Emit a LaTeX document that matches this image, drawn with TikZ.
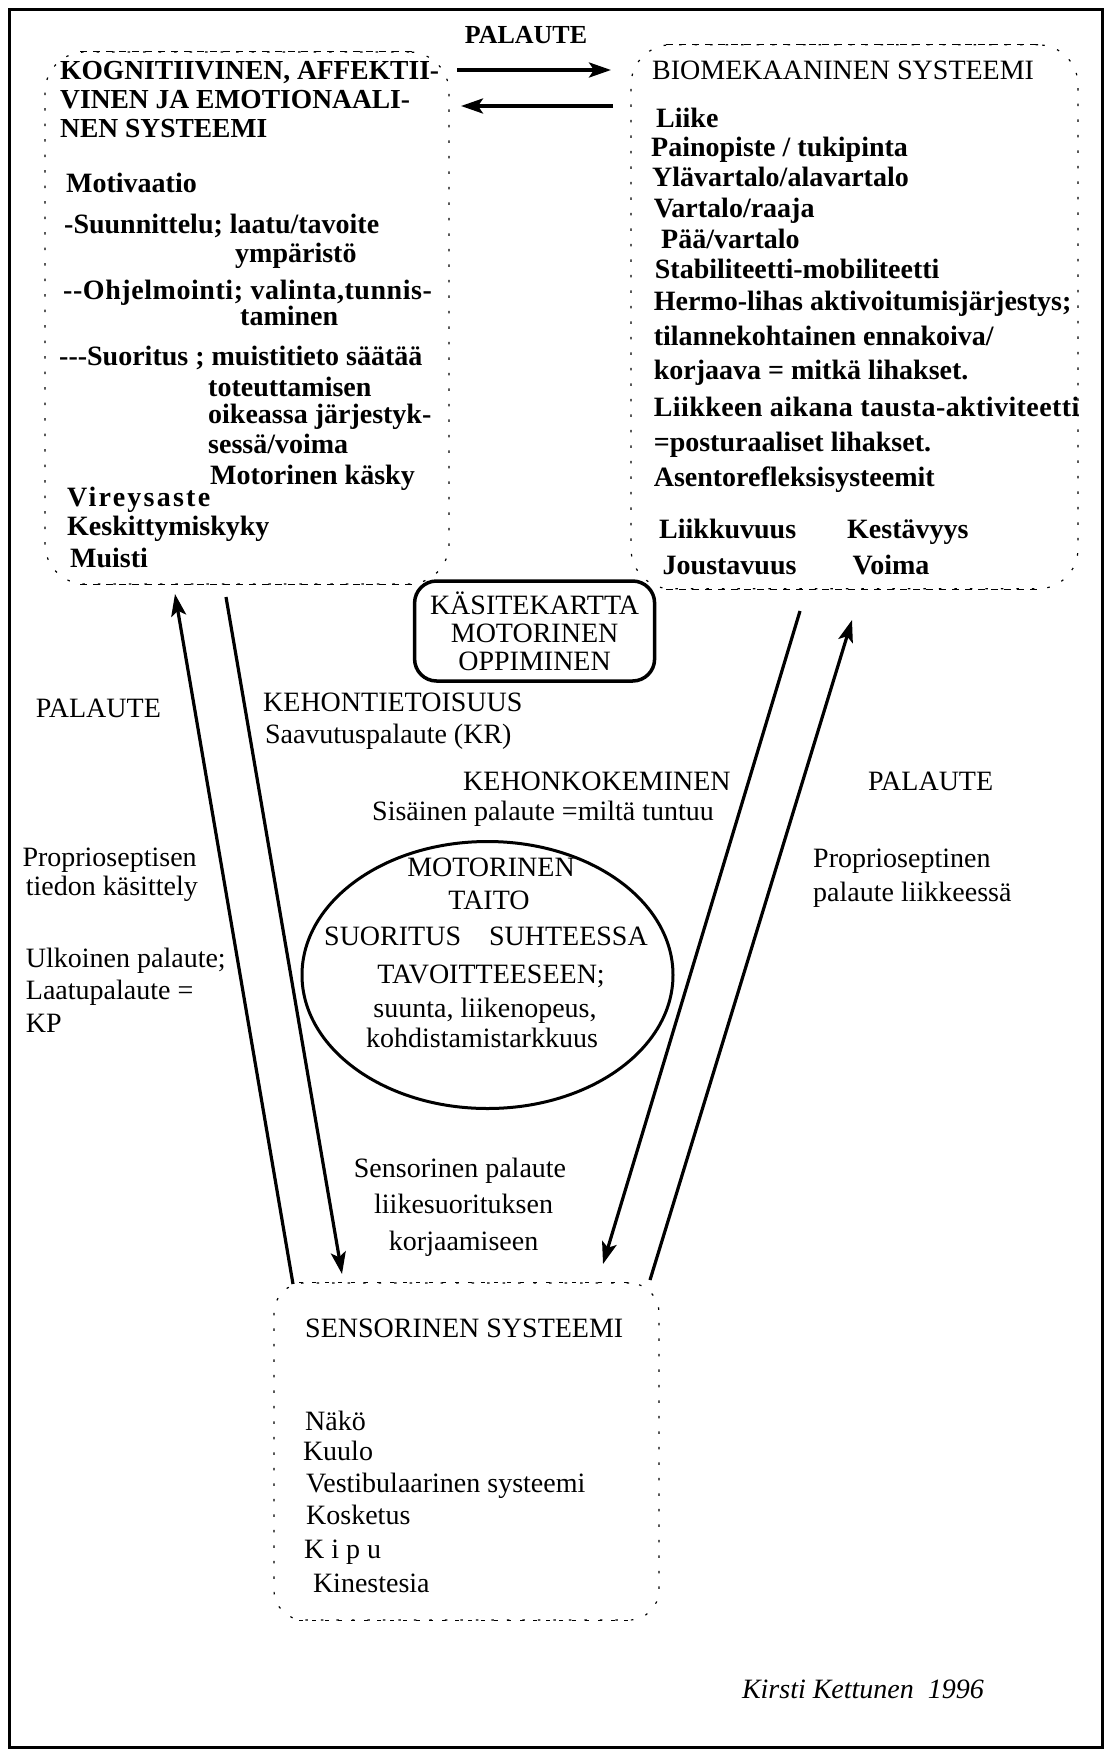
\documentclass[tikz,border=0pt]{standalone}
\usepackage{fontspec}
\setmainfont{Liberation Serif}
\usetikzlibrary{shapes.geometric,arrows.meta}
\tikzset{
  bt/.style={font=\fontsize{28}{31}\selectfont\bfseries, anchor=base west, inner sep=0pt},
  ht/.style={font=\fontsize{27.5}{30}\selectfont\bfseries, anchor=base west, inner sep=0pt},
  rt/.style={font=\fontsize{28}{31}\selectfont, anchor=base west, inner sep=0pt},
  rc/.style={font=\fontsize{28}{31}\selectfont, anchor=base, inner sep=0pt},
  sysbox/.style={draw, rounded corners=40pt, dash pattern=on 2.5pt off 13pt, line width=1.2pt, inner sep=0pt},
  edgeline/.style={line width=1.2pt, dash pattern=on 7pt off 6pt},
  fineedge/.style={line width=1.2pt, dash pattern=on 4pt off 9pt},
  arr/.style={line width=3.2pt, -{Stealth[length=22pt,width=15pt,inset=5pt]}},
  kbox/.style={draw, line width=3.5pt, rounded corners=22pt, minimum width=240pt, minimum height=100pt,
    align=center, inner sep=0pt, font=\fontsize{28}{28}\selectfont},
}
\begin{document}
\begin{tikzpicture}[x=1pt,y=-1pt]
\useasboundingbox (0,0) rectangle (1106,1751);
\draw[line width=3pt] (9,9) rectangle (1102,1747);

% boxes
\node[sysbox, minimum width=404pt, minimum height=532pt] (kog) at (247,318) {};
\draw[edgeline] ([xshift=36pt]kog.north west) -- ([xshift=-36pt]kog.north east);
\draw[edgeline] ([xshift=36pt]kog.south west) -- ([xshift=-36pt]kog.south east);
\node[sysbox, minimum width=447pt, minimum height=544pt] (bio) at (854.5,316.8) {};
\draw[edgeline] ([xshift=36pt]bio.north west) -- ([xshift=-36pt]bio.north east);
\draw[edgeline] ([xshift=36pt]bio.south west) -- ([xshift=-36pt]bio.south east);
\node[sysbox, rounded corners=30pt, minimum width=385pt, minimum height=337pt] (sens) at (466.5,1451.5) {};
\draw[fineedge] ([xshift=26pt]sens.north west) -- ([xshift=-26pt]sens.north east);
\draw[fineedge] ([xshift=26pt]sens.south west) -- ([xshift=-26pt]sens.south east);
\node[kbox] (kk) at (534.6,631) {KÄSITEKARTTA\\MOTORINEN\\OPPIMINEN};
\node[draw, ellipse, line width=3pt, minimum width=371pt, minimum height=267pt, inner sep=0pt] (taito) at (487.5,975) {};

% top feedback
\node[bt, anchor=base, font=\fontsize{26}{30}\selectfont\bfseries] (pal0) at (526,43) {PALAUTE};
\coordinate (t1a) at (457,70);
\coordinate (t1b) at (611,70);
\coordinate (t2a) at (613,106);
\coordinate (t2b) at (461,106);
\draw[arr, line width=3.6pt] (t1a) -- (t1b);
\draw[arr, line width=3.6pt] (t2a) -- (t2b);

% left box text
\node[ht] (k1) at (60,79) {KOGNITIIVINEN, AFFEKTII-};
\node[ht] (k2) at (60,108) {VINEN JA EMOTIONAALI-};
\node[ht] (k3) at (60,137) {NEN SYSTEEMI};
\node[bt] (k4) at (66,192) {Motivaatio};
\node[bt] (k5) at (64,233) {-Suunnittelu; laatu/tavoite};
\node[bt] (k6) at (235,262) {ympäristö};
\node[bt] (k7) at (63,299) {\addfontfeature{LetterSpace=2}-{}-Ohjelmointi; valinta,tunnis-};
\node[bt] (k8) at (240,325) {taminen};
\node[bt] (k9) at (59,365) {-{}-{}-Suoritus ; muistitieto säätää};
\node[bt] (k10) at (208,396) {toteuttamisen};
\node[bt] (k11) at (208,423) {oikeassa järjestyk-};
\node[bt] (k12) at (208,453) {sessä/voima};
\node[bt] (k13) at (210,484) {Motorinen käsky};
\node[bt] (k14) at (67,506) {\addfontfeature{LetterSpace=8}Vireysaste};
\node[bt] (k15) at (67,535) {Keskittymiskyky};
\node[bt] (k16) at (70,567) {Muisti};

% right box text
\node[rt] (b0) at (652,79.4) {BIOMEKAANINEN SYSTEEMI};
\node[bt] (b1) at (656,127.4) {Liike};
\node[bt] (b2) at (651,156) {Painopiste / tukipinta};
\node[bt] (b3) at (652,186.6) {Ylävartalo/alavartalo};
\node[bt] (b4) at (653.6,217.5) {Vartalo/raaja};
\node[bt] (b5) at (661,248.5) {Pää/vartalo};
\node[bt] (b6) at (654.7,278.5) {Stabiliteetti-mobiliteetti};
\node[bt] (b7) at (653.6,310.3) {Hermo-lihas aktivoitumisjärjestys;};
\node[bt] (b8) at (653.6,345) {tilannekohtainen ennakoiva/};
\node[bt] (b9) at (653.6,379.5) {korjaava = mitkä lihakset.};
\node[bt] (b10) at (653.6,416.8) {\addfontfeature{LetterSpace=1.5}Liikkeen aikana tausta-aktiviteetti};
\node[bt] (b11) at (653.6,451.4) {=posturaaliset lihakset.};
\node[bt] (b12) at (653.6,486) {Asentorefleksisysteemit};
\node[bt] (b13) at (659,538.5) {Liikkuvuus};
\node[bt] (b14) at (847,538.5) {Kestävyys};
\node[bt] (b15) at (662.5,574) {Joustavuus};
\node[bt] (b16) at (852.4,574) {Voima};

% arrows between systems
\coordinate (a1s) at (293,1284);
\coordinate (a1e) at (175,594);
\coordinate (a2s) at (226,597);
\coordinate (a2e) at (342,1274);
\coordinate (a3s) at (800,611);
\coordinate (a3e) at (603,1264);
\coordinate (a4s) at (650,1280);
\coordinate (a4e) at (852,620);
\draw[arr] (a1s) -- (a1e);
\draw[arr] (a2s) -- (a2e);
\draw[arr] (a3s) -- (a3e);
\draw[arr] (a4s) -- (a4e);

% middle labels
\node[rt] (m1) at (35.7,717) {PALAUTE};
\node[rt] (m2) at (263,711) {KEHONTIETOISUUS};
\node[rt] (m3) at (264.8,743) {Saavutuspalaute (KR)};
\node[rt] (m4) at (463,790) {KEHONKOKEMINEN};
\node[rt] (m5) at (372,820) {Sisäinen palaute =miltä tuntuu};
\node[rt] (m6) at (868,790) {PALAUTE};
\node[rt] (m7) at (22.3,866) {Proprioseptisen};
\node[rt] (m8) at (25.7,895) {tiedon käsittely};
\node[rt] (m9) at (25.7,967.5) {Ulkoinen palaute;};
\node[rt] (m10) at (25.7,999) {Laatupalaute =};
\node[rt] (m11) at (25.7,1032) {KP};
\node[rt] (m12) at (813,867) {Proprioseptinen};
\node[rt] (m13) at (813,901.6) {palaute liikkeessä};

% ellipse text
\node[rc] (e1) at (491,876) {MOTORINEN};
\node[rc] (e2) at (489,909) {TAITO};
\node[rc] (e3) at (486,945) {SUORITUS\quad SUHTEESSA};
\node[rc] (e4) at (491,983) {TAVOITTEESEEN;};
\node[rc] (e5) at (485,1017) {suunta, liikenopeus,};
\node[rc] (e6) at (482,1047) {kohdistamistarkkuus};

% sensory feedback label
\node[rc] (s1) at (460,1177) {Sensorinen palaute};
\node[rc] (s2) at (463.6,1213) {liikesuorituksen};
\node[rc] (s3) at (463.6,1250) {korjaamiseen};

% sensorinen box text
\node[rt] (n0) at (305,1337) {SENSORINEN SYSTEEMI};
\node[rt] (n1) at (305,1430) {Näkö};
\node[rt] (n2) at (302.8,1460) {Kuulo};
\node[rt] (n3) at (306,1492.6) {Vestibulaarinen systeemi};
\node[rt] (n4) at (306,1524) {Kosketus};
\node[rt] (n5) at (304,1558.6) {K i p u};
\node[rt] (n6) at (312.8,1592) {Kinestesia};

\node[rt, font=\fontsize{28}{31}\selectfont\itshape] (auth) at (741.8,1698) {Kirsti Kettunen\ \ 1996};
\end{tikzpicture}
\end{document}
